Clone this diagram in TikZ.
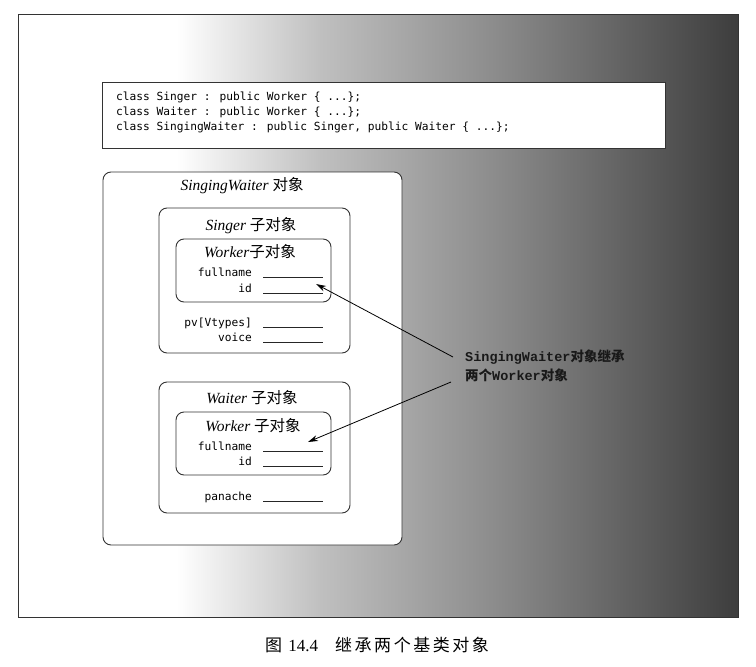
\documentclass[tikz,border=0pt]{standalone}
\usepackage{fontspec}
\setmainfont{Liberation Serif}
\newfontfamily\cjk{Noto Sans CJK SC}
\newfontfamily\capcjk[LetterSpace=15]{Noto Sans CJK SC}
\newfontfamily\codefont{DejaVu Sans Mono}
\newfontfamily\notefont{Liberation Mono}
\usepackage{tikz}
\usetikzlibrary{arrows.meta, positioning}
\pgfdeclarehorizontalshading{scan}{100bp}{color(0bp)=(white); color(36bp)=(white); color(46bp)=(black!25); color(58bp)=(black!45); color(75bp)=(black!76); color(100bp)=(black!76)}
\newcommand{\zh}[1]{{\upshape\cjk #1}}
\tikzstyle{objbox} = [draw=black!80, rounded corners=8pt, fill=white, line width=0.9pt]
\tikzstyle{title} = [font=\fontsize{15.5}{18}\selectfont\itshape, inner sep=0pt]
\tikzstyle{codeline} = [font=\codefont\fontsize{11.2}{13}\selectfont, anchor=base west, inner sep=0pt]
\tikzstyle{field} = [font=\codefont\fontsize{11.2}{13}\selectfont, anchor=base east, inner sep=0pt]
\tikzstyle{blank} = [draw=black!85, line width=0.8pt]
\tikzstyle{note} = [font=\notefont\bfseries\fontsize{13.5}{16}\selectfont, anchor=west, inner sep=0pt, text=black!90]
\tikzstyle{pointer} = [-{Stealth[length=10pt,width=6pt]}, line width=0.8pt]

\begin{document}
\begin{tikzpicture}[x=1pt, y=-1pt]
  \useasboundingbox (0,0) rectangle (756,667);
  % scanned page background
  \shade[shading=scan, draw=black!80, line width=1pt] (18,14) rectangle (738,617);

  \node[objbox, rounded corners=0pt, minimum width=563, minimum height=66] (code) at (383.5,115) {};
  \foreach \i/\txt in {0/{class Singer : public Worker \{ ...\};},
                       1/{class Waiter : public Worker \{ ...\};},
                       2/{class SingingWaiter : public Singer, public Waiter \{ ...\};}}{
    \node[codeline] (c\i) at (116,100.5+15*\i) {\txt};
  }

  \node[objbox, minimum width=299, minimum height=373] (sw) at (252.5,358.5) {};
  \node[objbox, minimum width=191, minimum height=145] (singer) at (254.5,280.5) {};
  \node[objbox, minimum width=155, minimum height=63] (wk1) at (253.5,270.5) {};
  \node[objbox, minimum width=191, minimum height=131] (waiter) at (254.5,447.5) {};
  \node[objbox, minimum width=155, minimum height=63] (wk2) at (253.5,443.5) {};

  \node[title] (tsw) at (242,186) {SingingWaiter \zh{对象}};
  \node[title] (tsinger) at (251,226) {Singer \zh{子对象}};
  \node[title] (twk1) at (250,252) {Worker\zh{子对象}};
  \node[title] (twaiter) at (252,398) {Waiter \zh{子对象}};
  \node[title] (twk2) at (253,426) {Worker \zh{子对象}};

  \foreach \n/\t/\y in {f1/fullname/276, i1/id/292, pv/{pv[Vtypes]}/326, vo/voice/341,
                        f2/fullname/450, i2/id/465, pa/panache/500}{
    \node[field] (\n) at (252,\y) {\t};
    \draw[blank] ([xshift=11pt, yshift=-1pt]\n.base east) -- ++(60,0);
  }

  \node[note] (l1) at (465,357) {SingingWaiter\zh{对象继承}};
  \node[note] (l2) at (465,375) {\zh{两个}Worker\zh{对象}};
  \coordinate (tip1) at (316,284);
  \coordinate (tip2) at (308,442);
  \draw[pointer] ([xshift=-12pt]l1.west) -- (tip1);
  \draw[pointer] ([shift={(-14pt,-7pt)}]l2.west) -- (tip2);

  \node (cap) at (377,645) {\capcjk\fontsize{17}{20}\selectfont 图\ {\rmfamily 14.4}\quad 继承两个基类对象};
\end{tikzpicture}
\end{document}
